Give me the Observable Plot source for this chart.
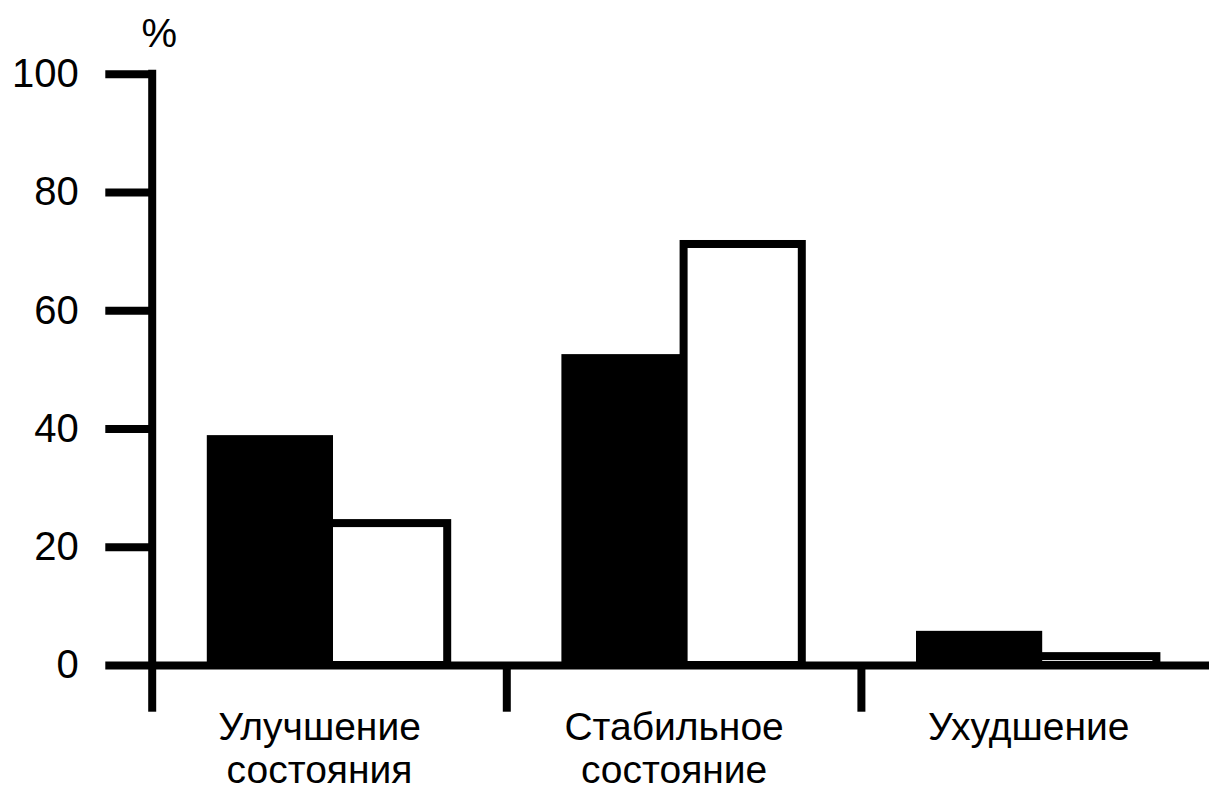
<!DOCTYPE html>
<html>
<head>
<meta charset="utf-8">
<script src="https://cdn.jsdelivr.net/npm/d3@7"></script>
<script src="https://cdn.jsdelivr.net/npm/@observablehq/plot@0.6"></script>
<style>
  html, body { margin: 0; padding: 0; background: #fff; overflow: hidden; }
  svg { overflow: hidden; }
</style>
</head>
<body>
<div id="chart"></div>
<script>
const categories = ["Улучшение\nсостояния", "Стабильное\nсостояние", "Ухудшение"];
const seriesBlack = [38.2, 51.9, 5.1];
const seriesWhite = [24.0, 71.2, 1.5];
const yTicks = [0, 20, 40, 60, 80, 100];
const yUnit = "%";

const rows = [];
categories.forEach((c, i) => {
  rows.push({cat: c, i, series: "black", value: seriesBlack[i]});
  rows.push({cat: c, i, series: "white", value: seriesWhite[i]});
});
const barW = 1 / 3;
const cats = categories.map((c, i) => ({cat: c, i}));

const chart = Plot.plot({
  width: 1209,
  height: 792,
  marginLeft: 152,
  marginRight: 0,
  marginTop: 0,
  marginBottom: 0,
  style: {fontFamily: "'Liberation Sans', Arial, Helvetica, sans-serif", color: "#000", background: "#fff"},
  x: {type: "linear", domain: [-0.5, 2.5], range: [151.7, 1215.5], axis: null},
  y: {domain: [0, 100], range: [665, 73.7], axis: null},
  marks: [
    Plot.axisY({ticks: yTicks, label: null, tickSize: 46.7, tickPadding: 27, strokeWidth: 8, fontSize: 40, tickFormat: d => String(d)}),
    Plot.ruleY([0], {stroke: "#000", strokeWidth: 8}),
    Plot.ruleX(cats, {x: d => d.i - 0.5, y1: -7.9, y2: 0, stroke: "#000", strokeWidth: 8}),
    Plot.ruleX([-0.5], {y1: 0, y2: 100, stroke: "#000", strokeWidth: 8, strokeLinecap: "square"}),
    Plot.rectY(rows, {
      x1: d => d.series === "black" ? d.i - barW : d.i,
      x2: d => d.series === "black" ? d.i : d.i + barW,
      y1: 0,
      y2: "value",
      fill: d => d.series === "black" ? "#000" : "#fff",
      stroke: "#000",
      strokeWidth: 8
    }),
    Plot.text(cats, {x: "i", y: 0, text: "cat", dy: 44, dx: -10, lineAnchor: "top", lineHeight: 1.1, fontSize: 39, fill: "#000"}),
    Plot.text([yUnit], {x: -0.5, y: 100, text: d => d, dx: 7, dy: -40, fontSize: 40, fill: "#000"})
  ]
});
document.getElementById("chart").appendChild(chart);
</script>
</body>
</html>
